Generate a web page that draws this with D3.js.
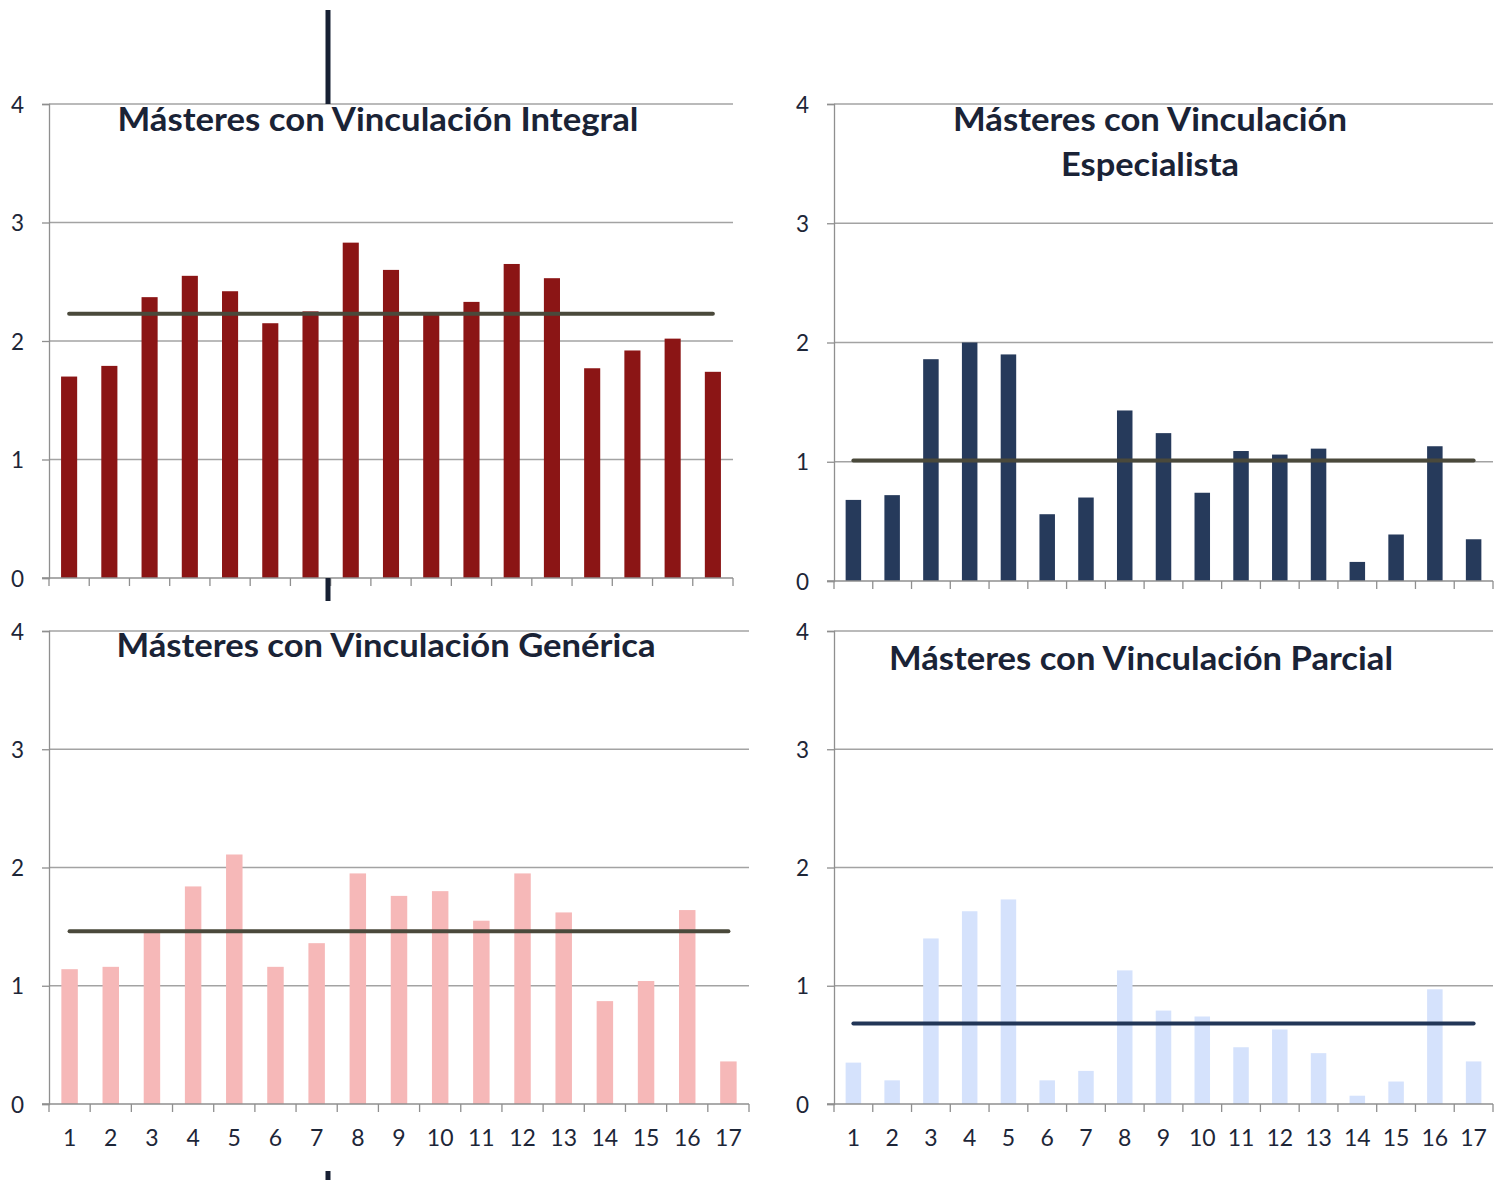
<!DOCTYPE html>
<html>
<head>
<meta charset="utf-8">
<script src="https://cdn.jsdelivr.net/npm/d3@7"></script>
<style>
  html, body { margin: 0; padding: 0; background: #ffffff; }
  svg { display: block; }
</style>
</head>
<body>
<svg id="chart" width="1502" height="1180"></svg>
<script>
// ---- Data ----
const categories = ["1","2","3","4","5","6","7","8","9","10","11","12","13","14","15","16","17"];
const yTicks = [0, 1, 2, 3, 4];

const titleIntegral = ["Másteres con Vinculación Integral"];
const titleEspecialista = ["Másteres con Vinculación", "Especialista"];
const titleGenerica = ["Másteres con Vinculación Genérica"];
const titleParcial = ["Másteres con Vinculación Parcial"];

const valuesIntegral = [1.70, 1.79, 2.37, 2.55, 2.42, 2.15, 2.25, 2.83, 2.60, 2.22, 2.33, 2.65, 2.53, 1.77, 1.92, 2.02, 1.74];
const meanIntegral = 2.23;

const valuesEspecialista = [0.68, 0.72, 1.86, 2.00, 1.90, 0.56, 0.70, 1.43, 1.24, 0.74, 1.09, 1.06, 1.11, 0.16, 0.39, 1.13, 0.35];
const meanEspecialista = 1.01;

const valuesGenerica = [1.14, 1.16, 1.45, 1.84, 2.11, 1.16, 1.36, 1.95, 1.76, 1.80, 1.55, 1.95, 1.62, 0.87, 1.04, 1.64, 0.36];
const meanGenerica = 1.46;

const valuesParcial = [0.35, 0.20, 1.40, 1.63, 1.73, 0.20, 0.28, 1.13, 0.79, 0.74, 0.48, 0.63, 0.43, 0.07, 0.19, 0.97, 0.36];
const meanParcial = 0.68;

// ---- Layout / style ----
const panels = [
  { values: valuesIntegral, mean: meanIntegral, title: titleIntegral,
    x0: 49, x1: 733, yTop: 104, yBot: 578, labelX: 24, xLabels: false,
    barColor: "#8b1515", meanColor: "#4a493b",
    titleX: 378, titleY: 131, titleW: [521] },
  { values: valuesEspecialista, mean: meanEspecialista, title: titleEspecialista,
    x0: 834, x1: 1493, yTop: 104, yBot: 581, labelX: 809, xLabels: false,
    barColor: "#263a5b", meanColor: "#4a493b",
    titleX: 1150, titleY: 131, titleW: [394, 178] },
  { values: valuesGenerica, mean: meanGenerica, title: titleGenerica,
    x0: 49, x1: 749, yTop: 631, yBot: 1104, labelX: 24, xLabels: true,
    barColor: "#f6b8b8", meanColor: "#4a493b",
    titleX: 386, titleY: 657, titleW: [539] },
  { values: valuesParcial, mean: meanParcial, title: titleParcial,
    x0: 834, x1: 1493, yTop: 631, yBot: 1104, labelX: 809, xLabels: true,
    barColor: "#d5e2fc", meanColor: "#223657",
    titleX: 1141, titleY: 670, titleW: [504] }
];

const svg = d3.select("#chart");
const textColor = "#1d2638";
const gridColor = "#a3a3a3";
const axisColor = "#8f8f8f";
const fontFam = "Lato, 'Open Sans', 'DejaVu Sans', sans-serif";

panels.forEach(p => {
  const g = svg.append("g");
  const x = d3.scaleBand().domain(categories).range([p.x0, p.x1])
    .paddingInner(0.6).paddingOuter(0.3);
  const y = d3.scaleLinear().domain([0, 4]).range([p.yBot, p.yTop]);
  const step = x.step();

  // gridlines
  g.selectAll("line.grid").data(yTicks.filter(d => d > 0)).join("line")
    .attr("x1", p.x0).attr("x2", p.x1)
    .attr("y1", d => y(d)).attr("y2", d => y(d))
    .attr("stroke", gridColor).attr("stroke-width", 1.3);

  // y axis
  const yAxis = d3.axisLeft(y).tickValues(yTicks).tickSize(7).tickPadding(0).tickFormat(d3.format("d"));
  const ya = g.append("g").attr("transform", `translate(${p.x0},0)`).call(yAxis);
  ya.select(".domain").attr("stroke", axisColor).attr("stroke-width", 1.3);
  ya.selectAll(".tick line").attr("stroke", axisColor).attr("stroke-width", 1.3);
  ya.selectAll(".tick text")
    .attr("x", p.labelX - p.x0).attr("dy", "0.36em")
    .attr("text-anchor", "end")
    .attr("fill", textColor).style("font-family", fontFam).style("font-size", "22.5px");

  // bars
  g.selectAll("rect.bar").data(p.values).join("rect")
    .attr("x", (d, i) => x(categories[i]))
    .attr("width", x.bandwidth())
    .attr("y", d => y(d))
    .attr("height", d => y(0) - y(d))
    .attr("fill", p.barColor);

  // x axis baseline
  g.append("line")
    .attr("x1", p.x0 - 7).attr("x2", p.x1)
    .attr("y1", y(0)).attr("y2", y(0))
    .attr("stroke", axisColor).attr("stroke-width", 1.3);
  // x ticks at category boundaries
  const bounds = d3.range(categories.length + 1).map(i => p.x0 + i * step);
  g.selectAll("line.xt").data(bounds).join("line")
    .attr("x1", d => d).attr("x2", d => d)
    .attr("y1", y(0)).attr("y2", y(0) + 8)
    .attr("stroke", axisColor).attr("stroke-width", 1.3);

  if (p.xLabels) {
    g.selectAll("text.xl").data(categories).join("text")
      .attr("x", d => x(d) + x.bandwidth() / 2)
      .attr("y", y(0) + 42)
      .attr("text-anchor", "middle")
      .attr("fill", textColor).style("font-family", fontFam).style("font-size", "23px")
      .text(d => d);
  }

  // mean line from first to last category centre
  const cx0 = x(categories[0]) + x.bandwidth() / 2;
  const cx1 = x(categories[categories.length - 1]) + x.bandwidth() / 2;
  g.append("line")
    .attr("x1", cx0).attr("x2", cx1)
    .attr("y1", y(p.mean)).attr("y2", y(p.mean))
    .attr("stroke", p.meanColor).attr("stroke-width", 4).attr("stroke-linecap", "round");

  // title
  p.title.forEach((t, i) => {
    g.append("text")
      .attr("x", p.titleX).attr("y", p.titleY + i * 45)
      .attr("text-anchor", "middle")
      .attr("fill", "#1a2336")
      .style("font-family", fontFam).style("font-weight", "bold").style("font-size", "32px")
      .attr("textLength", p.titleW[i]).attr("lengthAdjust", "spacingAndGlyphs")
      .text(t);
  });
});

// dark vertical separator fragments seen in the original
const sepSegments = [[10, 104], [578, 601], [1171, 1180]];
svg.selectAll("line.sep").data(sepSegments).join("line")
  .attr("x1", 328).attr("x2", 328)
  .attr("y1", d => d[0]).attr("y2", d => d[1])
  .attr("stroke", "#172033").attr("stroke-width", 5);
</script>
</body>
</html>
